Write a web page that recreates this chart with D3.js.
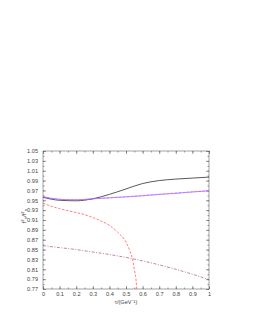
<!DOCTYPE html>
<html>
<head>
<meta charset="utf-8">
<script src="https://cdn.jsdelivr.net/npm/d3@7"></script>
<style>
  body { margin: 0; background: #fff; }
  text { font-family: "Liberation Sans", Arial, sans-serif; }
</style>
</head>
<body>
<div class="container"></div>
<script>
var width = 253,
    height = 327,
    plotLeft = 43,
    plotRight = 209,
    plotTop = 151,
    plotBottom = 289;

// tau values (GeV^-1)
var tau = [0, 0.1, 0.2, 0.3, 0.4, 0.5, 0.6, 0.7, 0.8, 0.9, 1.0];
var blackVals = [0.956, 0.950, 0.949, 0.953, 0.962, 0.973, 0.984, 0.990, 0.993, 0.995, 0.997];
var blueVals = [0.957, 0.952, 0.951, 0.953, 0.955, 0.957, 0.959, 0.962, 0.964, 0.967, 0.969];
var magentaVals = [0.958, 0.952, 0.951, 0.953, 0.955, 0.957, 0.960, 0.962, 0.965, 0.967, 0.970];
var purpleVals = [0.858, 0.854, 0.850, 0.845, 0.840, 0.834, 0.827, 0.819, 0.810, 0.800, 0.789];
var redTau = [0, 0.05, 0.1, 0.15, 0.2, 0.25, 0.3, 0.35, 0.4, 0.45, 0.5, 0.52, 0.54, 0.55, 0.56, 0.565];
var redVals = [0.944, 0.938, 0.933, 0.929, 0.925, 0.921, 0.915, 0.908, 0.899, 0.885, 0.865, 0.850, 0.829, 0.810, 0.790, 0.770];

var xTicks = [0, 0.1, 0.2, 0.3, 0.4, 0.5, 0.6, 0.7, 0.8, 0.9, 1];
var yTicks = [0.77, 0.79, 0.81, 0.83, 0.85, 0.87, 0.89, 0.91, 0.93, 0.95, 0.97, 0.99, 1.01, 1.03, 1.05];

var svg = d3.select('.container').append('svg')
    .attr('width', width)
    .attr('height', height);

var x = d3.scaleLinear().domain([0, 1]).range([plotLeft, plotRight]);
var y = d3.scaleLinear().domain([0.77, 1.05]).range([plotBottom, plotTop]);

var fmtX = (d) => d === 0 ? '0' : (d === 1 ? '1' : d3.format('.1f')(d));

var styleAxis = (g) => {
    g.select('.domain').remove();
    g.selectAll('line').attr('stroke', '#555').attr('stroke-width', 0.6);
    g.selectAll('text').attr('fill', '#444').style('font-size', '5.6px');
};

// minor ticks
var minorX = d3.range(0, 1.0001, 0.05);
var minorY = d3.range(0.77, 1.0501, 0.01);

svg.append('g')
    .attr('transform', 'translate(0,' + plotBottom + ')')
    .call(d3.axisBottom(x).tickValues(minorX).tickSize(-1.5).tickFormat(''))
    .call(styleAxis);
svg.append('g')
    .attr('transform', 'translate(0,' + plotTop + ')')
    .call(d3.axisTop(x).tickValues(minorX).tickSize(-1.5).tickFormat(''))
    .call(styleAxis);
svg.append('g')
    .attr('transform', 'translate(' + plotLeft + ',0)')
    .call(d3.axisLeft(y).tickValues(minorY).tickSize(-1.5).tickFormat(''))
    .call(styleAxis);
svg.append('g')
    .attr('transform', 'translate(' + plotRight + ',0)')
    .call(d3.axisRight(y).tickValues(minorY).tickSize(-1.5).tickFormat(''))
    .call(styleAxis);

// major ticks
svg.append('g')
    .attr('transform', 'translate(0,' + plotBottom + ')')
    .call(d3.axisBottom(x).tickValues(xTicks).tickSizeInner(-3).tickPadding(3).tickFormat(fmtX))
    .call(styleAxis);
svg.append('g')
    .attr('transform', 'translate(0,' + plotTop + ')')
    .call(d3.axisTop(x).tickValues(xTicks).tickSizeInner(-3).tickFormat(''))
    .call(styleAxis);
svg.append('g')
    .attr('transform', 'translate(' + plotLeft + ',0)')
    .call(d3.axisLeft(y).tickValues(yTicks).tickSizeInner(-3).tickPadding(5).tickFormat(d3.format('.2f')))
    .call(styleAxis);
svg.append('g')
    .attr('transform', 'translate(' + plotRight + ',0)')
    .call(d3.axisRight(y).tickValues(yTicks).tickSizeInner(-3).tickFormat(''))
    .call(styleAxis);

// frame
svg.append('rect')
    .attr('x', plotLeft).attr('y', plotTop)
    .attr('width', plotRight - plotLeft).attr('height', plotBottom - plotTop)
    .attr('fill', 'none').attr('stroke', '#666').attr('stroke-width', 0.6);

var line = d3.line()
    .x((d) => x(d[0]))
    .y((d) => y(d[1]))
    .curve(d3.curveMonotoneX);

var drawLine = (xs, ys, color, dash) => {
    svg.append('path')
        .datum(xs.map((t, i) => [t, ys[i]]))
        .attr('d', line)
        .attr('fill', 'none')
        .attr('stroke', color)
        .attr('stroke-width', 0.7)
        .attr('stroke-dasharray', dash);
};

drawLine(tau, purpleVals, '#a0508a', '3,1.5,1,1.5');
drawLine(redTau, redVals, '#ff4848', '2.5,1.5');
drawLine(tau, blackVals, '#111', null);
drawLine(tau, blueVals, '#6a6aff', null);
drawLine(tau, magentaVals, '#ff50ff', '2.5,1.5');

// axis labels
svg.append('text')
    .attr('x', 126).attr('y', 304)
    .attr('text-anchor', 'middle')
    .style('font-size', '5.6px')
    .attr('fill', '#444')
    .text('τ/(GeV⁻¹)');

var yl = svg.append('text')
    .attr('transform', 'translate(26,216) rotate(-90)')
    .attr('text-anchor', 'middle')
    .style('font-size', '5.6px')
    .attr('fill', '#444');
yl.append('tspan').text('f');
yl.append('tspan').attr('dy', -2).style('font-size', '4px').text('2');
yl.append('tspan').attr('dy', 3).style('font-size', '4px').text('π');
yl.append('tspan').attr('dy', -1).text('/f');
yl.append('tspan').attr('dy', -2).style('font-size', '4px').text('2');
yl.append('tspan').attr('dy', 3).style('font-size', '4px').text('π');
</script>
</body>
</html>
